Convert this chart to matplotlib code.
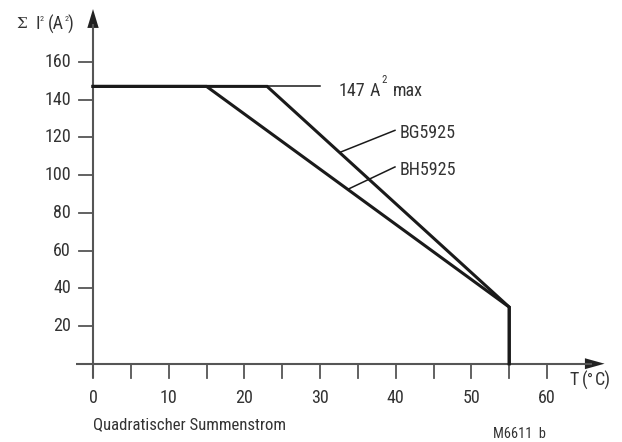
import matplotlib.pyplot as plt
from matplotlib import font_manager

# data
bg_x = [0, 23, 55, 55]
bg_y = [147, 147, 30, 0]
bh_x = [0, 15, 55, 55]
bh_y = [147, 147, 30, 0]
x_ticks = [0, 5, 10, 15, 20, 25, 30, 35, 40, 45, 50, 55, 60]
x_labels = [0, 10, 20, 30, 40, 50, 60]
y_ticks = [20, 40, 60, 80, 100, 120, 140, 160]

# pick a narrow face if one is around
names = {f.name for f in font_manager.fontManager.ttflist}
narrow = [n for n in ['Liberation Sans Narrow', 'Roboto Condensed', 'DejaVu Sans Condensed',
                      'Open Sans Condensed'] if n in names]
fam = narrow[:1] + ['Liberation Sans', 'DejaVu Sans']
plt.rcParams['font.family'] = fam
fs = 13 if narrow else 11.5

fig = plt.figure(figsize=(6.22, 4.42), dpi=100)
ax = fig.add_axes([0, 0, 1, 1])
ax.set_xlim(-12.29, 69.9)
ax.set_ylim(-41.5, 192.8)
ax.axis('off')

axc = '#555555'
tc = '#333333'
# axes
ax.plot([-2.2, 66], [0, 0], color=axc, lw=1.5, solid_capstyle='butt')
ax.plot([0, 0], [-7.5, 180], color=axc, lw=1.5, solid_capstyle='butt')
ax.fill([65.0, 67.6, 65.0], [-2.9, 0, 2.9], color='#222222', lw=0)
ax.fill([-0.75, 0, 0.75], [178, 188, 178], color='#222222', lw=0)

for t in x_ticks:
    ax.plot([t, t], [0, -7.5], color=axc, lw=1.3)
for t in x_labels:
    ax.text(t, -18, str(t), ha='center', va='center', fontsize=fs, color=tc)
for t in y_ticks:
    ax.plot([-1.8, 0], [t, t], color=axc, lw=1.3)
    ax.text(-2.9, t, str(t), ha='right', va='center', fontsize=fs, color=tc)

# curves
ax.plot(bg_x, bg_y, color='#1a1a1a', lw=2.2, solid_joinstyle='miter')
ax.plot(bh_x, bh_y, color='#1a1a1a', lw=2.2, solid_joinstyle='miter')

# leaders and labels
ax.plot([23, 30], [147, 147], color='#1a1a1a', lw=1.1)
ax.text(32.4, 144.5, '147', ha='left', va='center', fontsize=fs, color=tc)
ax.text(36.6, 144.5, 'A', ha='left', va='center', fontsize=fs, color=tc)
ax.text(38.1, 150.4, '2', ha='left', va='center', fontsize=fs * 0.6, color=tc)
ax.text(39.6, 144.5, 'max', ha='left', va='center', fontsize=fs, color=tc)
ax.plot([32.6, 39.9], [112.0, 123.7], color='#1a1a1a', lw=1.1)
ax.text(40.5, 122.2, 'BG5925', ha='left', va='center', fontsize=fs, color=tc)
ax.plot([33.7, 39.9], [92.5, 104.3], color='#1a1a1a', lw=1.1)
ax.text(40.5, 102.8, 'BH5925', ha='left', va='center', fontsize=fs, color=tc)

# y axis title built from pieces so the superscripts stay small
ax.text(-10.1, 180.1, 'Σ', ha='left', va='center', fontsize=fs * 0.85, color=tc, family='DejaVu Serif')
ax.text(-7.55, 180.1, 'I', ha='left', va='center', fontsize=fs, color=tc)
ax.text(-7.05, 182.5, '2', ha='left', va='center', fontsize=fs * 0.45, color=tc)
ax.text(-6.0, 180.1, '(A', ha='left', va='center', fontsize=fs, color=tc)
ax.text(-3.8, 182.5, '2', ha='left', va='center', fontsize=fs * 0.45, color=tc)
ax.text(-3.35, 180.1, ')', ha='left', va='center', fontsize=fs, color=tc)

# x axis title
ax.text(63.0, -8.6, 'T', ha='left', va='center', fontsize=fs, color=tc)
ax.text(64.6, -8.6, '(', ha='left', va='center', fontsize=fs, color=tc)
ax.text(65.3, -8.6, '°', ha='left', va='center', fontsize=fs * 0.9, color=tc)
ax.text(66.3, -8.6, 'C)', ha='left', va='center', fontsize=fs, color=tc)

ax.text(0, -32.5, 'Quadratischer Summenstrom', ha='left', va='center', fontsize=fs * 0.93, color=tc)
ax.text(52.9, -37.3, 'M6611  b', ha='left', va='center', fontsize=fs * 0.8, color=tc)

fig.savefig('out.png', dpi=100)
